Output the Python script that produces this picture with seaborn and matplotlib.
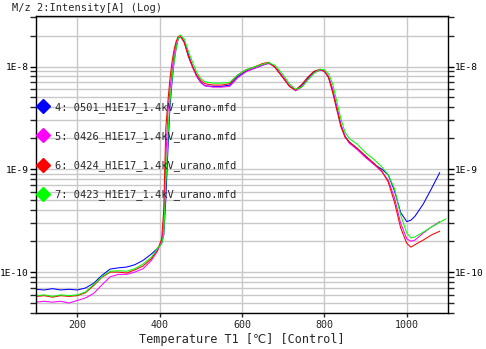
import numpy as np
import pandas as pd
import matplotlib
matplotlib.use("Agg")
import matplotlib.pyplot as plt
from matplotlib.lines import Line2D
from matplotlib.ticker import LogLocator, NullFormatter, FixedLocator
import seaborn as sns

temperature = [100, 120, 140, 160, 180, 200, 220, 240, 260, 280, 300, 320, 340, 360, 380, 395,
               405, 410, 415, 420, 425, 430, 435, 440, 445, 450, 460, 470, 480, 490, 500, 510,
               530, 550, 570, 590, 610, 630, 650, 665, 680, 700, 715, 730, 745, 760, 775, 790,
               800, 810, 820, 830, 840, 850, 860, 880, 900, 920, 940, 955, 970, 985, 1000, 1010,
               1020, 1040, 1060, 1080, 1095]

s4_0501 = [6.8e-11, 6.7e-11, 6.9e-11, 6.7e-11, 6.8e-11, 6.7e-11, 7.0e-11, 7.8e-11, 9.3e-11, 1.07e-10,
           1.1e-10, 1.12e-10, 1.18e-10, 1.3e-10, 1.5e-10, 1.7e-10, 1.9e-10, 2.3e-10, 5e-10, 1.5e-9,
           4e-9, 7e-9, 1.1e-8, 1.5e-8, 1.85e-8, 1.98e-8, 1.75e-8, 1.3e-8, 1.0e-8, 8.1e-9, 7.0e-9, 6.5e-9,
           6.4e-9, 6.4e-9, 6.6e-9, 8.0e-9, 9.0e-9, 9.6e-9, 1.03e-8, 1.08e-8, 9.9e-9, 7.8e-9, 6.5e-9,
           5.9e-9, 6.5e-9, 7.7e-9, 8.9e-9, 9.3e-9, 9.0e-9, 7.9e-9, 5.9e-9, 4.0e-9, 2.7e-9, 2.1e-9,
           1.85e-9, 1.58e-9, 1.33e-9, 1.12e-9, 1.0e-9, 8.8e-10, 6.2e-10, 3.8e-10, 3.1e-10, 3.2e-10,
           3.5e-10, 4.6e-10, 6.5e-10, 9.3e-10, np.nan]

s5_0426 = [5.1e-11, 5.2e-11, 5.1e-11, 5.2e-11, 5.0e-11, 5.3e-11, 5.6e-11, 6.2e-11, 7.5e-11, 9.0e-11,
           9.5e-11, 9.5e-11, 1.0e-10, 1.08e-10, 1.3e-10, 1.6e-10, 2.0e-10, 2.8e-10, 1.2e-9, 3.5e-9,
           5.8e-9, 9e-9, 1.3e-8, 1.65e-8, 1.9e-8, 1.98e-8, 1.72e-8, 1.25e-8, 9.8e-9, 8.0e-9, 7.0e-9, 6.5e-9,
           6.3e-9, 6.3e-9, 6.4e-9, 7.8e-9, 8.9e-9, 9.6e-9, 1.03e-8, 1.07e-8, 1.0e-8, 7.9e-9, 6.5e-9,
           5.8e-9, 6.3e-9, 7.5e-9, 8.7e-9, 9.2e-9, 9.0e-9, 8.0e-9, 6.0e-9, 4.0e-9, 2.7e-9, 2.1e-9,
           1.8e-9, 1.55e-9, 1.3e-9, 1.12e-9, 9.4e-10, 7.8e-10, 5.3e-10, 3.0e-10, 2.1e-10, 2.0e-10,
           2.05e-10, 2.4e-10, 2.75e-10, 3.1e-10, np.nan]

s6_0424 = [5.8e-11, 5.9e-11, 5.7e-11, 5.9e-11, 5.8e-11, 5.9e-11, 6.3e-11, 7.4e-11, 8.9e-11, 1.0e-10,
           1.0e-10, 9.8e-11, 1.05e-10, 1.15e-10, 1.35e-10, 1.65e-10, 2.1e-10, 4e-10, 2.5e-9, 4.5e-9,
           7.5e-9, 1.1e-8, 1.45e-8, 1.75e-8, 1.95e-8, 2.0e-8, 1.7e-8, 1.25e-8, 1.0e-8, 8.3e-9, 7.3e-9, 6.8e-9,
           6.6e-9, 6.6e-9, 6.8e-9, 8.3e-9, 9.3e-9, 9.9e-9, 1.07e-8, 1.1e-8, 9.8e-9, 7.7e-9, 6.4e-9,
           5.9e-9, 6.7e-9, 7.9e-9, 9.0e-9, 9.4e-9, 9.0e-9, 7.8e-9, 5.6e-9, 3.8e-9, 2.6e-9, 2.05e-9,
           1.85e-9, 1.6e-9, 1.35e-9, 1.15e-9, 9.5e-10, 7.5e-10, 4.8e-10, 2.7e-10, 1.9e-10, 1.75e-10,
           1.85e-10, 2.05e-10, 2.3e-10, 2.5e-10, np.nan]

s7_0423 = [5.9e-11, 6.0e-11, 5.8e-11, 6.0e-11, 5.9e-11, 6.0e-11, 6.4e-11, 7.6e-11, 9.0e-11, 1.02e-10,
           1.03e-10, 1.02e-10, 1.08e-10, 1.2e-10, 1.4e-10, 1.7e-10, 1.9e-10, 2.3e-10, 7e-10, 2.0e-9,
           4.5e-9, 7.5e-9, 1.1e-8, 1.5e-8, 1.85e-8, 2.03e-8, 1.85e-8, 1.4e-8, 1.1e-8, 8.8e-9, 7.6e-9, 7.1e-9,
           6.9e-9, 6.9e-9, 7.0e-9, 8.3e-9, 9.3e-9, 9.9e-9, 1.05e-8, 1.09e-8, 1.03e-8, 8.3e-9, 6.8e-9,
           6.0e-9, 6.3e-9, 7.4e-9, 8.6e-9, 9.4e-9, 9.3e-9, 8.5e-9, 6.8e-9, 4.6e-9, 3.1e-9, 2.3e-9,
           2.0e-9, 1.75e-9, 1.45e-9, 1.25e-9, 1.05e-9, 8.8e-10, 6.5e-10, 3.6e-10, 2.4e-10, 2.15e-10,
           2.2e-10, 2.45e-10, 2.75e-10, 3.05e-10, 3.3e-10]

labels = ["4: 0501_H1E17_1.4kV_urano.mfd",
          "5: 0426_H1E17_1.4kV_urano.mfd",
          "6: 0424_H1E17_1.4kV_urano.mfd",
          "7: 0423_H1E17_1.4kV_urano.mfd"]
colors = ["#0000FF", "#FF00FF", "#FF0000", "#00FF00"]
series = [s4_0501, s5_0426, s6_0424, s7_0423]

title = "M/z 2:Intensity[A] (Log)"
xlabel = "Temperature T1 [℃] [Control]"
xticks = [200, 400, 600, 800, 1000]
yticks = [1e-10, 1e-9, 1e-8]
yticklabels = ["1E-10", "1E-9", "1E-8"]

frames = []
for lab, vals in zip(labels, series):
    frames.append(pd.DataFrame({"T": temperature, "I": vals, "run": lab}))
df = pd.concat(frames, ignore_index=True).dropna()

sns.set_style("white")
plt.rcParams['font.family'] = ['DejaVu Sans Mono', 'DejaVu Sans']

fig = plt.figure(figsize=(4.86, 3.49), dpi=100)
ax = fig.add_axes([36/486, 1 - 313/349, 412/486, 297/349])

sns.lineplot(data=df, x="T", y="I", hue="run", palette=dict(zip(labels, colors)),
             ax=ax, legend=False, linewidth=0.75, sort=False, estimator=None)

ax.set_yscale("log")
ax.set_xlim(100, 1100)
ax.set_ylim(4e-11, 3.1e-8)

ax.yaxis.set_major_locator(FixedLocator(yticks))
ax.set_yticks(yticks)
ax.set_yticklabels(yticklabels)
ax.yaxis.set_minor_locator(LogLocator(base=10, subs=np.arange(2, 10)))
ax.yaxis.set_minor_formatter(NullFormatter())
ax.set_xticks(xticks)
ax.set_xticklabels([str(t) for t in xticks])

ax.grid(True, which="both", axis="y", color="#C8C8C8", linewidth=1)
ax.grid(True, which="major", axis="x", color="#C8C8C8", linewidth=1)
ax.set_axisbelow(True)

ax.tick_params(axis="y", which="major", direction="out", length=4, width=1,
               left=True, right=True, labelleft=True, labelright=True,
               labelsize=6.8, colors="black", pad=1)
ax.tick_params(axis="y", which="minor", direction="out", length=4, width=1,
               left=True, right=True)
ax.tick_params(axis="x", which="major", direction="out", length=3, width=1,
               labelsize=7.2, pad=2, bottom=True)
for sp in ax.spines.values():
    sp.set_color("black")
    sp.set_linewidth(1)

ax.set_xlabel(xlabel, fontsize=8.5, labelpad=2)
ax.set_ylabel("")
fig.text(12/486, 1 - 8/349, title, fontsize=7.5, va="center", ha="left")

handles = [Line2D([0], [0], marker="D", color=c, linestyle="none", markersize=7,
                  markeredgecolor=c) for c in colors]
ax.legend(handles, labels, loc="upper left", bbox_to_anchor=(38/486, 1 - 102/349),
          bbox_transform=fig.transFigure, frameon=False, fontsize=7.5,
          handlelength=1.0, handletextpad=0.6, labelspacing=1.75, borderpad=0,
          borderaxespad=0)

fig.savefig("out.png", dpi=100)
